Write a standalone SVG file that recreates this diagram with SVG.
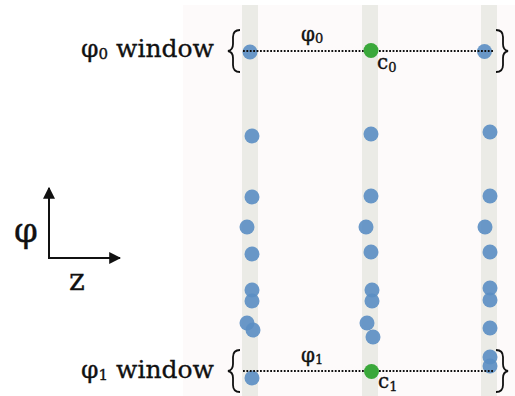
<svg xmlns="http://www.w3.org/2000/svg" width="515" height="396" viewBox="0 0 515 396">
<defs>
<style>
.bg{fill:#fdfafa}
.strip{fill:#ebebe6}
.dot{fill:#5b8ec3;fill-opacity:0.9}
.green{fill:#3aa83a}
.win{stroke:#111;stroke-width:1.8;stroke-dasharray:1.8 1.6;fill:none}
.brace{stroke:#111;stroke-width:1.8;fill:none}
.axis{stroke:#111;stroke-width:2;fill:none}
.lbl{font-family:"DejaVu Serif","Liberation Serif",serif;fill:#111;stroke:#111;stroke-width:0.35}
</style>
<marker id="ah" viewBox="0 0 10 10" refX="9" refY="5" markerWidth="6" markerHeight="6" orient="auto" markerUnits="strokeWidth">
<path d="M0,0 L10,5 L0,10 Z" fill="#111"/>
</marker>
</defs>
<rect x="183" y="5" width="332" height="391" class="bg"/>
<rect x="242" y="5" width="16" height="391" class="strip"/>
<rect x="362" y="5" width="16" height="391" class="strip"/>
<rect x="481" y="5" width="16" height="391" class="strip"/>

<g id="col1">
<circle class="dot" cx="250" cy="52" r="7.5"/>
<circle class="dot" cx="252" cy="136" r="7.5"/>
<circle class="dot" cx="252" cy="197" r="7.5"/>
<circle class="dot" cx="247" cy="227" r="7.5"/>
<circle class="dot" cx="252" cy="254" r="7.5"/>
<circle class="dot" cx="252" cy="290" r="7.5"/>
<circle class="dot" cx="252" cy="301" r="7.5"/>
<circle class="dot" cx="247" cy="323" r="7.5"/>
<circle class="dot" cx="253" cy="330" r="7.5"/>
<circle class="dot" cx="252" cy="378" r="7.5"/>
</g>
<g id="col2">
<circle class="dot" cx="371" cy="134" r="7.5"/>
<circle class="dot" cx="371" cy="196" r="7.5"/>
<circle class="dot" cx="366" cy="227" r="7.5"/>
<circle class="dot" cx="371" cy="252" r="7.5"/>
<circle class="dot" cx="372" cy="290" r="7.5"/>
<circle class="dot" cx="372" cy="301" r="7.5"/>
<circle class="dot" cx="367" cy="323" r="7.5"/>
<circle class="dot" cx="373" cy="337" r="7.5"/>
</g>
<g id="col3">
<circle class="dot" cx="484.5" cy="51.5" r="7.5"/>
<circle class="dot" cx="490" cy="132" r="7.5"/>
<circle class="dot" cx="490" cy="196" r="7.5"/>
<circle class="dot" cx="485" cy="227" r="7.5"/>
<circle class="dot" cx="490" cy="252" r="7.5"/>
<circle class="dot" cx="490" cy="288" r="7.5"/>
<circle class="dot" cx="490" cy="300" r="7.5"/>
<circle class="dot" cx="490" cy="328" r="7.5"/>
<circle class="dot" cx="490" cy="357" r="7.5"/>
<circle class="dot" cx="490" cy="366" r="7.5"/>
</g>

<g id="connectors">
<line class="win" x1="243" y1="51" x2="493" y2="51"/>
<line class="win" x1="243" y1="371" x2="493" y2="371"/>
<path class="axis" d="M49,258 V188" marker-end="url(#ah)"/>
<path class="axis" d="M48,258 H120" marker-end="url(#ah)"/>
</g>

<g id="c0">
<circle class="green" cx="371" cy="50.5" r="7.5"/>
<text class="lbl" x="377" y="69" font-size="20">c<tspan font-size="13" dy="3">0</tspan></text>
</g>
<g id="c1">
<circle class="green" cx="371.5" cy="371.5" r="7.5"/>
<text class="lbl" x="378" y="388" font-size="20">c<tspan font-size="13" dy="3">1</tspan></text>
</g>

<g id="window0">
<path class="brace" d="M240,30 Q233,30 233,37 V44 Q233,50 228,51 Q233,52 233,58 V65 Q233,72 240,72"/>
<path class="brace" d="M496,30 Q503,30 503,37 V44 Q503,50 508,51 Q503,52 503,58 V65 Q503,72 496,72"/>
<text class="lbl" x="81" y="57" font-size="25">φ<tspan font-size="15" dy="2">0</tspan><tspan dy="-2"> window</tspan></text>
<text class="lbl" x="301" y="41" font-size="20">φ<tspan font-size="13" dy="2">0</tspan></text>
</g>
<g id="window1">
<path class="brace" d="M240,350 Q233,350 233,357 V364 Q233,370 228,371 Q233,372 233,378 V385 Q233,392 240,392"/>
<path class="brace" d="M496,350 Q503,350 503,357 V364 Q503,370 508,371 Q503,372 503,378 V385 Q503,392 496,392"/>
<text class="lbl" x="81" y="378" font-size="25">φ<tspan font-size="15" dy="2">1</tspan><tspan dy="-2"> window</tspan></text>
<text class="lbl" x="301" y="362" font-size="20">φ<tspan font-size="13" dy="2">1</tspan></text>
</g>

<g id="axes">
<text class="lbl" x="14" y="242" font-size="34">φ</text>
<text class="lbl" x="69" y="290" font-size="30">z</text>
</g>
</svg>
